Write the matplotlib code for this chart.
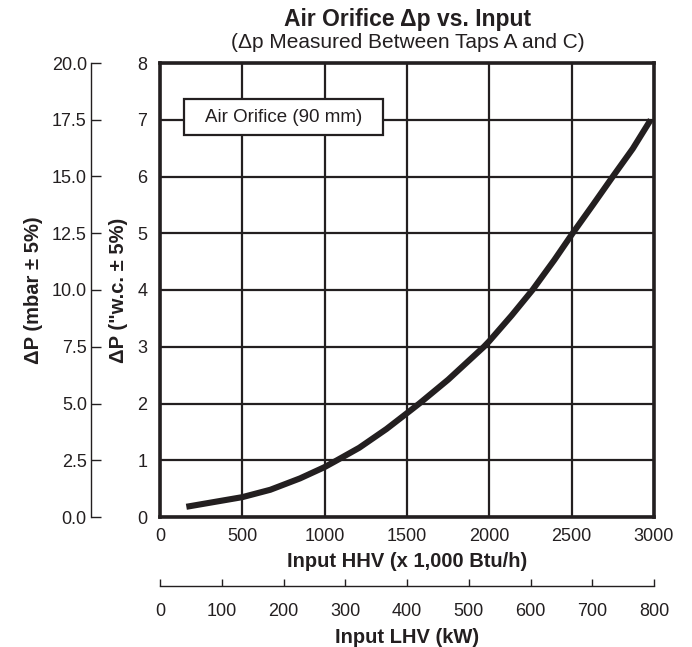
import matplotlib
matplotlib.use("Agg")
import matplotlib.pyplot as plt
from matplotlib.patches import Rectangle

plt.rcParams['font.family'] = ['Liberation Sans', 'DejaVu Sans']

# ---- data ----
hhv = [160, 300, 500, 670, 850, 1000, 1075, 1210, 1375, 1500, 1575, 1750, 1967,
       2000, 2135, 2262, 2395, 2506, 2629, 2750, 2871, 2980]
dp_wc = [0.18, 0.25, 0.35, 0.48, 0.68, 0.88, 1.00, 1.22, 1.55, 1.83, 2.00, 2.42, 3.00,
         3.10, 3.55, 4.00, 4.53, 5.00, 5.50, 6.00, 6.49, 7.00]
hhv_ticks = [0, 500, 1000, 1500, 2000, 2500, 3000]
wc_ticks = [0, 1, 2, 3, 4, 5, 6, 7, 8]
mbar_ticks = [0.0, 2.5, 5.0, 7.5, 10.0, 12.5, 15.0, 17.5, 20.0]
lhv_ticks = [0, 100, 200, 300, 400, 500, 600, 700, 800]
legend_label = "Air Orifice (90 mm)"

INK = '#231f20'
W, H = 692, 647
fig = plt.figure(figsize=(W / 100, H / 100), dpi=100)

TICK_FS = 13
LABEL_FS = 14.5

L, R, T, B = 160, 654, 63, 517
ax = fig.add_axes([L / W, 1 - B / H, (R - L) / W, (B - T) / H])
ax.set_xlim(0, 3000)
ax.set_ylim(0, 8)
ax.set_xticks(hhv_ticks)
ax.set_yticks(wc_ticks)
ax.grid(True, color=INK, linewidth=1.6)
ax.set_axisbelow(True)
for s in ax.spines.values():
    s.set_linewidth(2.6)
    s.set_color(INK)
ax.tick_params(axis='both', length=0, labelsize=TICK_FS, colors=INK)
ax.tick_params(axis='x', pad=8)
ax.tick_params(axis='y', pad=9)
ax.plot(hhv, dp_wc, color=INK, linewidth=4.4, solid_capstyle='butt',
        solid_joinstyle='round', zorder=5)
ax.set_xlabel("Input HHV (x 1,000 Btu/h)", fontsize=LABEL_FS, fontweight='bold', color=INK, labelpad=5)
ax.set_ylabel('ΔP ("w.c. ± 5%)', fontsize=LABEL_FS, fontweight='bold', color=INK, labelpad=7)

# legend-like box
bx0, bx1 = (184 - L) / (R - L), (383 - L) / (R - L)
by0, by1 = (B - 135) / (B - T), (B - 99) / (B - T)
ax.add_patch(Rectangle((bx0, by0), bx1 - bx0, by1 - by0, transform=ax.transAxes,
                       facecolor='white', edgecolor=INK, linewidth=1.6, zorder=6))
ax.text((bx0 + bx1) / 2, (by0 + by1) / 2, legend_label, transform=ax.transAxes,
        fontsize=13.5, color=INK, va='center', ha='center', zorder=7)

# title
fig.text(408 / W, 1 - 26 / H, "Air Orifice Δp vs. Input", ha='center', va='baseline',
         fontsize=16.5, fontweight='bold', color=INK)
fig.text(408 / W, 1 - 48 / H, "(Δp Measured Between Taps A and C)", ha='center', va='baseline',
         fontsize=15, color=INK)

# mbar axis
mx = 91
axm = fig.add_axes([mx / W, 1 - B / H, 0.01, (B - T) / H])
axm.set_ylim(0, 20)
axm.set_yticks(mbar_ticks)
axm.set_yticklabels([f"{v:.1f}" for v in mbar_ticks])
axm.set_xticks([])
for k in ['top', 'right', 'bottom']:
    axm.spines[k].set_visible(False)
axm.spines['left'].set_linewidth(1.0)
axm.spines['left'].set_color(INK)
axm.patch.set_visible(False)
axm.tick_params(axis='y', direction='in', length=7, width=1.0, labelsize=TICK_FS, colors=INK, pad=3)
axm.set_ylabel('ΔP (mbar ± 5%)', fontsize=LABEL_FS, fontweight='bold', color=INK, labelpad=6)

# LHV axis
ly = 586
axl = fig.add_axes([L / W, 1 - ly / H, (R - L) / W, 0.001])
axl.set_xlim(0, 800)
axl.set_xticks(lhv_ticks)
axl.set_yticks([])
for k in ['top', 'right', 'left']:
    axl.spines[k].set_visible(False)
axl.spines['bottom'].set_linewidth(1.0)
axl.spines['bottom'].set_color(INK)
axl.patch.set_visible(False)
axl.tick_params(axis='x', direction='in', length=5, width=1.0, labelsize=TICK_FS, colors=INK, pad=12)
axl.set_xlabel("Input LHV (kW)", fontsize=LABEL_FS, fontweight='bold', color=INK, labelpad=6)

fig.savefig("out.png", dpi=100)
